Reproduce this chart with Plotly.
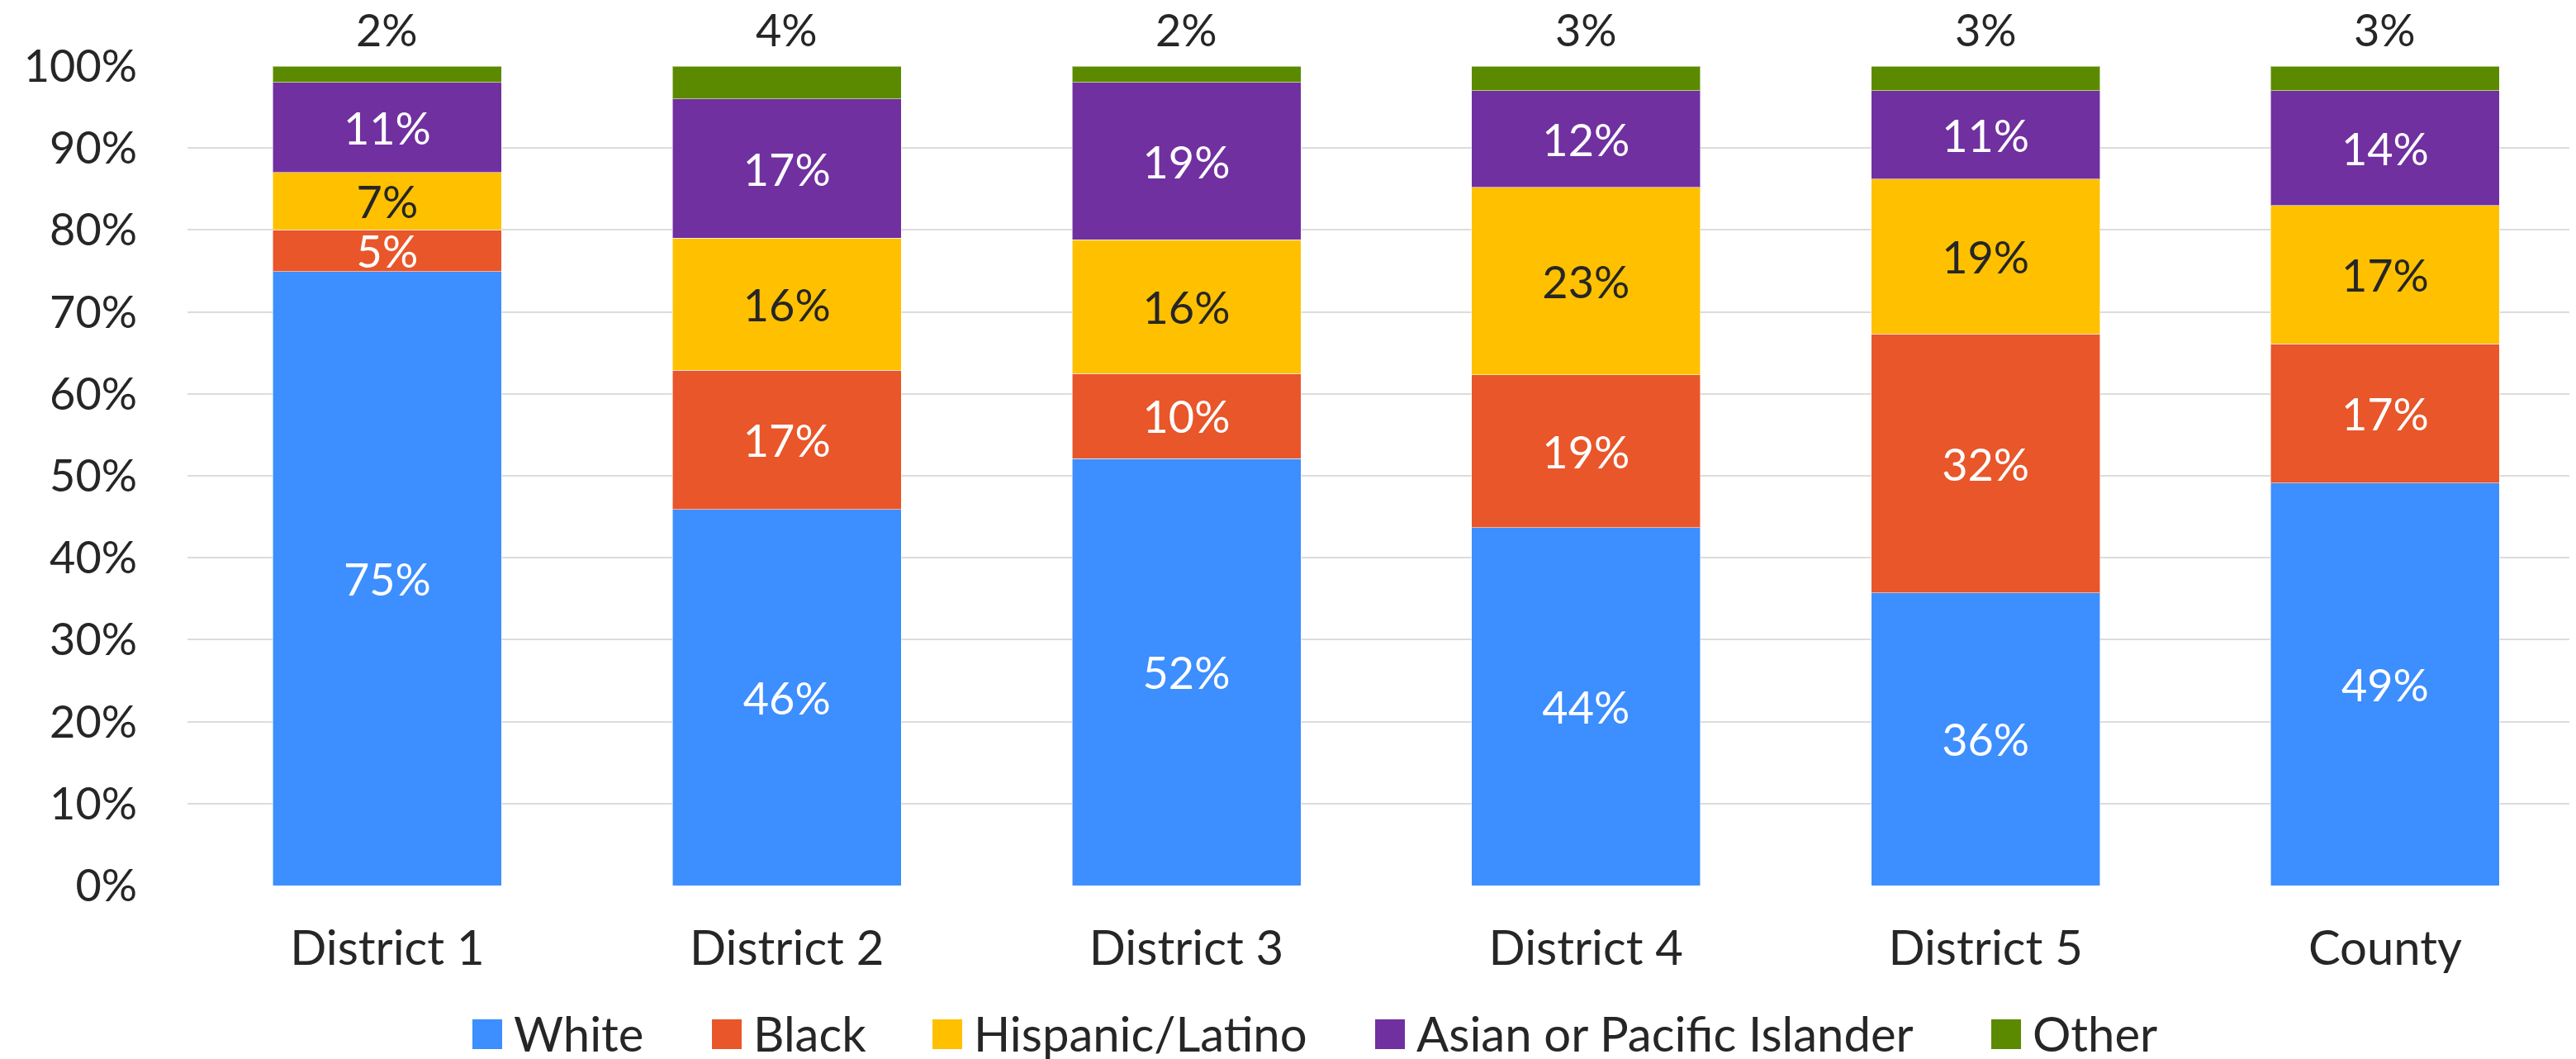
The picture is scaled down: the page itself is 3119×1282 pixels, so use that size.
import plotly.graph_objects as go

categories = ["District 1", "District 2", "District 3", "District 4", "District 5", "County"]
series_names = ["White", "Black", "Hispanic/Latino", "Asian or Pacific Islander", "Other"]
white = [0.749, 0.459, 0.521, 0.437, 0.357, 0.491]
black = [0.051, 0.170, 0.104, 0.186, 0.316, 0.170]
hispanic = [0.070, 0.161, 0.163, 0.229, 0.189, 0.169]
asian = [0.110, 0.170, 0.192, 0.118, 0.108, 0.140]
other = [0.020, 0.040, 0.020, 0.030, 0.030, 0.030]
y_ticks = [0, 0.1, 0.2, 0.3, 0.4, 0.5, 0.6, 0.7, 0.8, 0.9, 1.0]

series_values = [white, black, hispanic, asian, other]
colors = ["#3d8efe", "#e8562a", "#ffc000", "#7030a0", "#5b8a00"]
text_colors = ["#ffffff", "#ffffff", "#262626", "#ffffff", "#262626"]

FONT = "Lato"
FS = 54        # numbers
FS_WORDS = 58  # category and legend words
OFF = 8  # default page body margin
W, H = 3119 - OFF, 1282 - OFF
ML, MT = 227 - OFF, 80 - OFF
PLOT_BOTTOM = 1072 - OFF
MB = H - PLOT_BOTTOM
plot_w = W - ML
plot_h = H - MT - MB
cat_px = 483.8
bar_w = 277 / cat_px

fig = go.Figure()
for name, vals, col, tcol in zip(series_names, series_values, colors, text_colors):
    is_other = name == "Other"
    fig.add_trace(go.Bar(
        x=categories, y=vals, name=name,
        marker=dict(color=col, line=dict(color="rgba(255,255,255,0.55)", width=1)),
        width=bar_w,
        texttemplate=None if is_other else "%{y:.0%}",
        textposition="none" if is_other else "inside",
        insidetextanchor="middle",
        constraintext="none",
        textfont=dict(family=FONT, size=FS, color=tcol),
        showlegend=False,
    ))

# top labels for "Other"
totals = [sum(s[i] for s in series_values) for i in range(len(categories))]
for c, t, o in zip(categories, totals, other):
    fig.add_annotation(x=c, y=t, text=f"{o:.0%}", showarrow=False, xref="x", yref="y",
                       yanchor="bottom", yshift=10,
                       font=dict(family=FONT, size=FS, color="#262626"))

# manual legend (page pixel positions)
legend_px = [572, 862, 1129, 1665, 2411]
sq = 36
leg_cy = 1252 - OFF
for name, col, px in zip(series_names, colors, legend_px):
    px = px - OFF
    x0 = (px - ML) / plot_w
    x1 = (px + sq - ML) / plot_w
    y0 = (H - MB - (leg_cy + sq / 2)) / plot_h
    y1 = (H - MB - (leg_cy - sq / 2)) / plot_h
    fig.add_shape(type="rect", xref="paper", yref="paper", x0=x0, x1=x1, y0=y0, y1=y1,
                  fillcolor=col, line=dict(width=0))
    fig.add_annotation(x=(px + sq + 12 - ML) / plot_w, y=(y0 + y1) / 2 + 2 / plot_h,
                       xref="paper", yref="paper",
                       text=name, showarrow=False, xanchor="left", yanchor="middle",
                       font=dict(family=FONT, size=FS_WORDS, color="#262626"))

fig.update_layout(
    width=W, height=H,
    margin=dict(l=ML, r=0, t=MT, b=MB),
    barmode="stack",
    plot_bgcolor="white", paper_bgcolor="white",
    font=dict(family=FONT, size=FS, color="#262626"),
    showlegend=False,
)
fig.update_xaxes(range=[-0.5, 5.5 - (ML + 6 * cat_px - W) / cat_px], showgrid=False, zeroline=False,
                 showline=False, ticks="", tickfont=dict(family=FONT, size=FS_WORDS, color="#262626"),
                 ticklabelstandoff=37)
fig.update_yaxes(range=[0, 1], tickvals=y_ticks, tickformat=".0%", showgrid=True,
                 gridcolor="#dcdcdc", gridwidth=2, zeroline=False, showline=False, ticks="",
                 tickfont=dict(family=FONT, size=FS, color="#262626"), ticklabelstandoff=60)

fig.write_html("out.html")
